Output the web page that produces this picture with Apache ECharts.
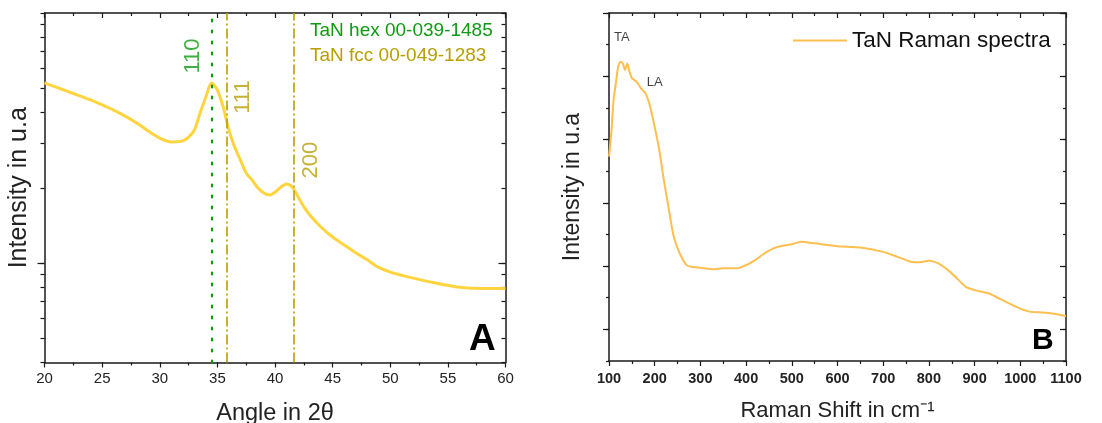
<!DOCTYPE html>
<html><head><meta charset="utf-8">
<script src="https://cdn.jsdelivr.net/npm/echarts@6/dist/echarts.min.js"></script>
<style>html,body{margin:0;padding:0;background:#fff}#c{width:1102px;height:423px}</style>
</head><body><div id="c"></div>
<script>
// ---- Panel A: XRD ----
var xrdAngle = [20,21,22,23,24,25,26,27,28,29,30,31,32,32.5,33,33.5,34,34.5,35,35.5,36,36.5,37,37.5,38,38.5,39,39.5,40,40.5,41,41.5,42,42.5,43,44,45,46,47,48,49,50,52,54,56,58,60];
var xrdIntensity = [525,505,486,467,449,429,409,387,363,337,316,305,308,319,340,398,461,525,492,421,340,291,258,229,215,200,191,187,192,201,207,201,184,168,156,139,127,118,110,103,96,92,87,83,80,79,79];
var hexLines = [34.5];
var fccLines = [35.8, 41.6];
var peakLabels = ['110','111','200'];
var peakLabelX = [32.9, 37.2, 43.1];
var peakLabelY = [673, 461, 258];
var peakLabelPhase = ['hex','fcc','fcc'];
var xrdTicksY = [40,50,60,70,80,90,100,200,300,400,500,600,700,800,900,1000];
var xrdMajorTicksY = [100];
var legendA = ['TaN hex 00-039-1485','TaN fcc 00-049-1283'];

// ---- Panel B: Raman ----
var ramanShift = [100,105,110,115,120,125,130,135,140,145,150,160,170,180,190,200,210,220,230,240,250,260,270,280,300,330,350,380,400,420,440,460,480,500,520,550,600,650,700,730,760,780,800,820,850,880,900,930,960,990,1020,1050,1080,1100];
var ramanIntensity = [6.46,7.2,8.25,8.78,9.3,9.46,9.41,9.2,9.4,9.14,8.94,8.83,8.62,8.46,8.04,7.40,6.67,5.72,4.88,4.04,3.57,3.25,3.03,2.98,2.95,2.90,2.93,2.93,3.03,3.19,3.40,3.56,3.64,3.69,3.77,3.72,3.63,3.59,3.45,3.30,3.14,3.12,3.17,3.09,2.77,2.35,2.24,2.14,1.93,1.72,1.56,1.53,1.48,1.42];
var modeLabels = ['TA','LA'];
var modeLabelX = [128, 200];
var modeLabelY = [10.24, 8.82];
var ramanMajorTicks = [1,3,5,7,9,11];

var GREEN = '#109a12', OLIVE = '#b89e00', XRD = '#ffd43e', RAMAN = '#ffbf4f', AX = '#1a1a1a';
var FONT = 'Liberation Sans, Arial, sans-serif';

function zip(a,b){ return a.map(function(v,i){ return [v,b[i]]; }); }

var chart = echarts.init(document.getElementById('c'), null, {renderer:'canvas'});

var axLine = {show:true, onZero:false, lineStyle:{color:AX, width:1.5}};

var option = {
  animation:false,
  backgroundColor:'#fff',
  textStyle:{fontFamily:FONT},
  grid:[
    {left:44.5, top:13, width:461, height:349.5, outerBoundsMode:'none'},
    {left:609, top:13, width:457, height:348, outerBoundsMode:'none'}
  ],
  legend:{
    data:['TaN Raman spectra'], left:788, top:24, itemWidth:54, itemHeight:14, itemGap:10,
    textStyle:{fontSize:22.5, color:'#111', fontFamily:FONT},
    icon:'path://M0,6 L54,6 L54,8 L0,8 Z'
  },
  xAxis:[
    {gridIndex:0, type:'value', min:20, max:60, interval:5, position:'bottom',
     name:'Angle in 2θ', nameLocation:'middle', nameGap:39,
     nameTextStyle:{fontSize:23.5, color:'#222', fontFamily:FONT},
     axisLine:axLine, splitLine:{show:false},
     axisTick:{show:true, inside:false, length:5, lineStyle:{color:AX, width:1.2}},
     minorTick:{show:true, splitNumber:2, length:3, lineStyle:{color:AX, width:1.2}},
     axisLabel:{fontSize:15, color:'#222', margin:9, fontFamily:FONT}},
    {gridIndex:0, type:'value', min:20, max:60, interval:5, position:'top',
     axisLine:axLine, splitLine:{show:false},
     axisTick:{show:true, inside:true, length:5, lineStyle:{color:AX, width:1.2}},
     minorTick:{show:true, splitNumber:2, length:3, lineStyle:{color:AX, width:1.2}},
     axisLabel:{show:false}},
    {gridIndex:1, type:'value', min:100, max:1100, interval:100, position:'bottom',
     name:'Raman Shift in cm⁻¹', nameLocation:'middle', nameGap:39,
     nameTextStyle:{fontSize:22, color:'#222', fontFamily:FONT},
     axisLine:axLine, splitLine:{show:false},
     axisTick:{show:true, inside:false, length:5, lineStyle:{color:AX, width:1.2}},
     minorTick:{show:true, splitNumber:2, length:3, lineStyle:{color:AX, width:1.2}},
     axisLabel:{fontSize:14.5, fontWeight:'bold', color:'#222', margin:10, fontFamily:FONT,
                formatter:function(v){ return String(v); }}},
    {gridIndex:1, type:'value', min:100, max:1100, interval:100, position:'top',
     axisLine:axLine, splitLine:{show:false},
     axisTick:{show:true, inside:true, length:5, lineStyle:{color:AX, width:1.2}},
     minorTick:{show:true, splitNumber:2, length:3, lineStyle:{color:AX, width:1.2}},
     axisLabel:{show:false}}
  ],
  yAxis:[
    {gridIndex:0, type:'log', logBase:10, min:40, max:1000, position:'left',
     name:'Intensity in u.a', nameLocation:'middle', nameGap:13,
     nameTextStyle:{fontSize:25, color:'#222', fontFamily:FONT},
     axisLine:axLine, splitLine:{show:false},
     axisTick:{show:true, inside:false, length:4, customValues:xrdTicksY, lineStyle:{color:AX, width:1.2}},
     axisLabel:{show:false}},
    {gridIndex:0, type:'log', logBase:10, min:40, max:1000, position:'right',
     axisLine:axLine, splitLine:{show:false},
     axisTick:{show:true, inside:true, length:4, customValues:xrdTicksY, lineStyle:{color:AX, width:1.2}},
     axisLabel:{show:false}},
    {gridIndex:1, type:'value', min:0, max:11, interval:1, position:'left',
     name:'Intensity in u.a', nameLocation:'middle', nameGap:25,
     nameTextStyle:{fontSize:23, color:'#222', fontFamily:FONT},
     axisLine:axLine, splitLine:{show:false},
     axisTick:{show:true, inside:false, length:3, lineStyle:{color:AX, width:1.2}},
     axisLabel:{show:false}},
    {gridIndex:1, type:'value', min:0, max:11, interval:1, position:'right',
     axisLine:axLine, splitLine:{show:false},
     axisTick:{show:true, inside:true, length:3, lineStyle:{color:AX, width:1.2}},
     axisLabel:{show:false}},
    {gridIndex:1, type:'value', min:0, max:11, position:'left',
     axisLine:{show:false}, splitLine:{show:false},
     axisTick:{show:true, inside:false, length:6, customValues:ramanMajorTicks, lineStyle:{color:AX, width:1.2}},
     axisLabel:{show:false}},
    {gridIndex:1, type:'value', min:0, max:11, position:'right',
     axisLine:{show:false}, splitLine:{show:false},
     axisTick:{show:true, inside:true, length:6, customValues:ramanMajorTicks, lineStyle:{color:AX, width:1.2}},
     axisLabel:{show:false}},
    {gridIndex:0, type:'log', logBase:10, min:40, max:1000, position:'left',
     axisLine:{show:false}, splitLine:{show:false},
     axisTick:{show:true, inside:false, length:7, customValues:xrdMajorTicksY, lineStyle:{color:AX, width:1.2}},
     axisLabel:{show:false}},
    {gridIndex:0, type:'log', logBase:10, min:40, max:1000, position:'right',
     axisLine:{show:false}, splitLine:{show:false},
     axisTick:{show:true, inside:true, length:7, customValues:xrdMajorTicksY, lineStyle:{color:AX, width:1.2}},
     axisLabel:{show:false}}
  ],
  series:[
    {type:'line', name:'XRD', xAxisIndex:0, yAxisIndex:0, data:zip(xrdAngle, xrdIntensity),
     showSymbol:false, symbol:'none', smooth:0.3, lineStyle:{color:XRD, width:3}, z:3,
     markLine:{silent:true, symbol:['none','none'], label:{show:false},
       data: hexLines.map(function(v){ return {xAxis:v, lineStyle:{color:GREEN, type:[2,9], width:2.2, cap:'round'}}; })
         .concat(fccLines.map(function(v){ return {xAxis:v, lineStyle:{color:OLIVE, type:[10,3,2,3], width:1.6}}; }))}},
    {type:'scatter', name:'peaks', xAxisIndex:0, yAxisIndex:0, symbolSize:0, silent:true,
     data: peakLabels.map(function(t,i){ return {name:t, value:[peakLabelX[i], peakLabelY[i]],
       label:{show:true, formatter:t, rotate:90, position:'inside', fontSize:22, fontFamily:FONT,
              color: peakLabelPhase[i]==='hex' ? GREEN : OLIVE}}; })},
    {type:'line', name:'TaN Raman spectra', xAxisIndex:2, yAxisIndex:2, data:zip(ramanShift, ramanIntensity),
     showSymbol:false, symbol:'none', smooth:0.2, lineStyle:{color:RAMAN, width:2}, itemStyle:{color:RAMAN}},
    {type:'scatter', name:'modes', xAxisIndex:2, yAxisIndex:2, symbolSize:0, silent:true,
     data: modeLabels.map(function(t,i){ return {name:t, value:[modeLabelX[i], modeLabelY[i]],
       label:{show:true, formatter:t, position:'inside', fontSize:13, color:'#111', fontFamily:FONT}}; })}
  ],
  graphic:[
    {type:'text', left:310, top:21, style:{text:legendA[0], fill:GREEN, fontSize:19, fontFamily:FONT}},
    {type:'text', left:310, top:46, style:{text:legendA[1], fill:OLIVE, fontSize:19, fontFamily:FONT}},
    {type:'text', left:469, top:321, style:{text:'A', fill:'#000', fontSize:37, fontWeight:'bold', fontFamily:FONT}},
    {type:'text', left:1032, top:326, style:{text:'B', fill:'#000', fontSize:30, fontWeight:'bold', fontFamily:FONT}}
  ]
};
chart.setOption(option);
</script>
</body></html>
